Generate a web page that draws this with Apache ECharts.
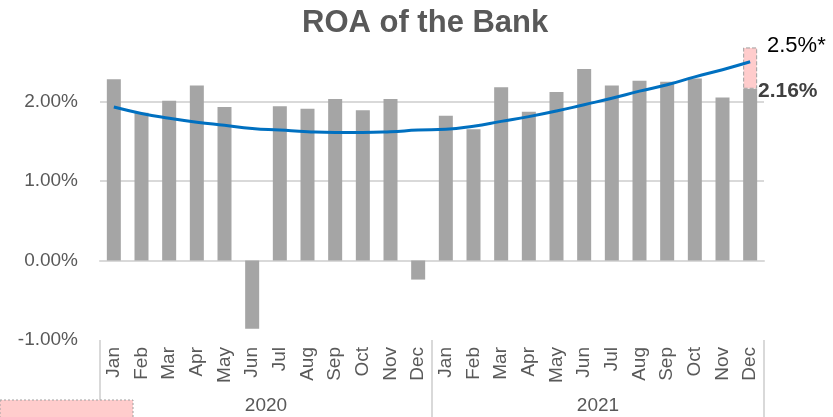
<!DOCTYPE html>
<html>
<head>
<meta charset="utf-8">
<script src="https://cdn.jsdelivr.net/npm/echarts@6/dist/echarts.min.js"></script>
<style>
  html, body { margin: 0; padding: 0; background: #fff; }
  #chart { width: 833px; height: 417px; }
</style>
</head>
<body>
<div id="chart"></div>
<script>
// months of each year, two years side by side
const months = ['Jan', 'Feb', 'Mar', 'Apr', 'May', 'Jun', 'Jul', 'Aug', 'Sep', 'Oct', 'Nov', 'Dec']
const years = ['2020', '2021']
const categories = years.flatMap(y => months.map(m => m + ' ' + y))

// monthly ROA (%)
const roa = [
  2.28, 1.86, 2.01, 2.20, 1.93, -0.86, 1.94, 1.91, 2.03, 1.89, 2.03, -0.24,
  1.82, 1.65, 2.18, 1.87, 2.12, 2.41, 2.20, 2.26, 2.25, 2.29, 2.05, 2.16
]
// trend line (polynomial)
const trend = [
  1.93, 1.85, 1.79, 1.74, 1.70, 1.66, 1.64, 1.62, 1.61, 1.61, 1.62, 1.64,
  1.65, 1.69, 1.75, 1.81, 1.88, 1.96, 2.04, 2.13, 2.21, 2.31, 2.40, 2.50
]
// pink target box on top of the last bar (2.16% -> ~2.68%)
const targetGap = [
  '-', '-', '-', '-', '-', '-', '-', '-', '-', '-', '-', '-',
  '-', '-', '-', '-', '-', '-', '-', '-', '-', '-', '-', 0.52
]
const yTicks = [-1, 0, 1, 2]

const font = 'Liberation Sans, Arial, sans-serif'
const chart = echarts.init(document.getElementById('chart'))
chart.setOption({
  animation: false,
  textStyle: { fontFamily: font },
  title: {
    text: 'ROA of the Bank',
    left: 297,
    top: 3,
    textStyle: { fontSize: 31, fontWeight: 'bold', color: '#595959', fontFamily: font }
  },
  grid: { left: 100, right: 69, top: 22, bottom: 77 },
  xAxis: [{
    type: 'category',
    data: categories,
    axisLine: { lineStyle: { color: '#d9d9d9', width: 2 } },
    axisTick: { show: false },
    axisLabel: {
      rotate: 90,
      interval: 0,
      margin: 7,
      fontSize: 19,
      color: '#595959',
      formatter: v => v.split(' ')[0]
    }
  }, {
    type: 'category',
    data: years,
    position: 'bottom',
    axisLine: { show: false },
    axisTick: { show: true, length: 77, lineStyle: { color: '#d9d9d9', width: 2 } },
    axisLabel: { margin: 56, fontSize: 19, color: '#595959' }
  }],
  yAxis: {
    type: 'value',
    min: -1,
    max: 3,
    interval: 1,
    axisLine: { show: false },
    axisTick: { show: false },
    splitLine: { showMaxLine: false, showMinLine: false, lineStyle: { color: '#d9d9d9', width: 2 } },
    axisLabel: {
      margin: 22,
      fontSize: 19,
      color: '#595959',
      formatter: v => yTicks.includes(v) ? v.toFixed(2) + '%' : ''
    }
  },
  series: [{
    name: 'ROA',
    type: 'bar',
    stack: 'roa',
    barWidth: 14,
    data: roa,
    itemStyle: { color: '#a5a5a5' }
  }, {
    name: 'target',
    type: 'bar',
    stack: 'roa',
    barWidth: 14,
    data: targetGap,
    itemStyle: { color: '#ffcccc', borderColor: '#a0a0a0', borderWidth: 1, borderType: 'dashed' }
  }, {
    name: 'trend',
    type: 'line',
    smooth: true,
    symbol: 'none',
    data: trend,
    lineStyle: { color: '#0070c0', width: 3 },
    z: 5
  }],
  graphic: [{
    type: 'text',
    left: 767,
    top: 35,
    style: { text: '2.5%*', fontSize: 22, fill: '#000', fontFamily: font }
  }, {
    type: 'text',
    left: 758,
    top: 81,
    style: { text: '2.16%', fontSize: 21, fontWeight: 'bold', fill: '#404040', fontFamily: font }
  }, {
    type: 'rect',
    z: 100,
    shape: { x: 0, y: 400, width: 133, height: 20 },
    style: { fill: '#ffcccc', stroke: '#a0a0a0', lineWidth: 1, lineDash: [2, 2] }
  }]
})
</script>
</body>
</html>
